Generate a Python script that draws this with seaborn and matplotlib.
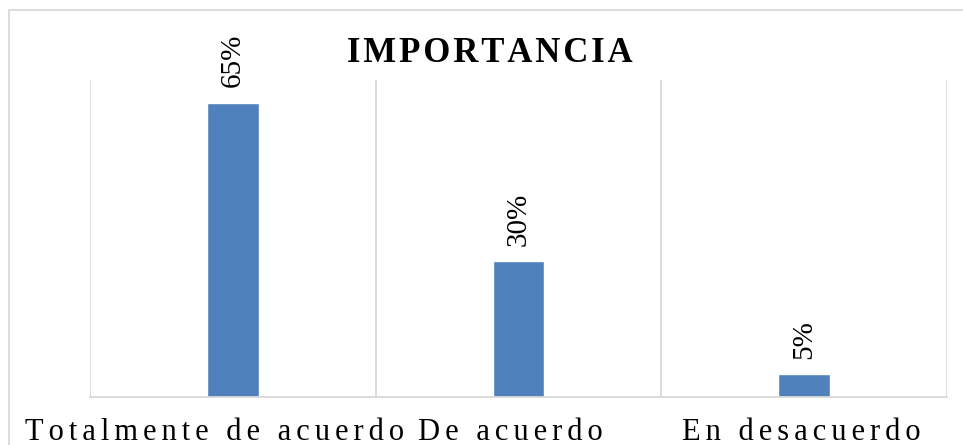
import matplotlib
matplotlib.use("Agg")
import matplotlib.pyplot as plt
import matplotlib.transforms as mtransforms
import seaborn as sns
import pandas as pd
from matplotlib.patches import Rectangle

categories = ["Totalmente de acuerdo", "De acuerdo", "En desacuerdo"]
values = [65, 30, 5]
value_labels = ["65%", "30%", "5%"]
title = "IMPORTANCIA"

sns.set_theme(style="white")
plt.rcParams["font.family"] = ["Liberation Serif", "DejaVu Serif"]

HAIR = "\u200a"


def spaced(text, sep):
    return sep.join(text)


df = pd.DataFrame({"categoria": categories, "valor": values})

fig = plt.figure(figsize=(9.63, 4.45), dpi=100)
ax = fig.add_axes([90 / 963, 1 - 397 / 445, (947 - 90) / 963, (397 - 80) / 445])

sns.barplot(data=df, x="categoria", y="valor", color="#4F81BD", width=0.18,
            saturation=1, ax=ax)

ax.set_ylim(0, 70)
ax.set_xlim(-0.5, 2.5)
ax.set_xlabel("")
ax.set_ylabel("")
ax.set_yticks([])

# category separators
for xpos in [-0.5, 0.5, 1.5, 2.5]:
    ax.axvline(xpos, color="#D9D9D9", lw=1.3, zorder=0)

for side in ["top", "left", "right"]:
    ax.spines[side].set_visible(False)
ax.spines["bottom"].set_color("#D9D9D9")
ax.spines["bottom"].set_linewidth(1.3)

ax.set_xticks(range(len(categories)))
ax.set_xticklabels([spaced(c, HAIR * 2) for c in categories], fontsize=22,
                   color="#000000")
ax.tick_params(axis="x", length=0, pad=15)

# nudge the long labels slightly left so they do not collide
for lbl, dx in zip(ax.get_xticklabels(), [-18, -8, -3]):
    lbl.set_transform(lbl.get_transform() +
                      mtransforms.ScaledTranslation(dx / 100, 0, fig.dpi_scale_trans))

for i, (v, lab) in enumerate(zip(values, value_labels)):
    ax.annotate(lab, xy=(i, v), xytext=(0, 11), textcoords="offset points",
                rotation=90, ha="center", va="bottom", fontsize=21,
                color="#000000")

fig.text(490 / 963, 1 - 54 / 445, spaced(title, HAIR), fontsize=25,
         fontweight="bold", ha="center", va="center", color="#000000")

# chart frame
fig.patches.append(Rectangle((9 / 963, -0.1), 1.2, 1 - 10 / 445 + 0.1,
                             transform=fig.transFigure, fill=False,
                             edgecolor="#D9D9D9", lw=1.3))

fig.savefig("out.png", dpi=100, facecolor="white")
